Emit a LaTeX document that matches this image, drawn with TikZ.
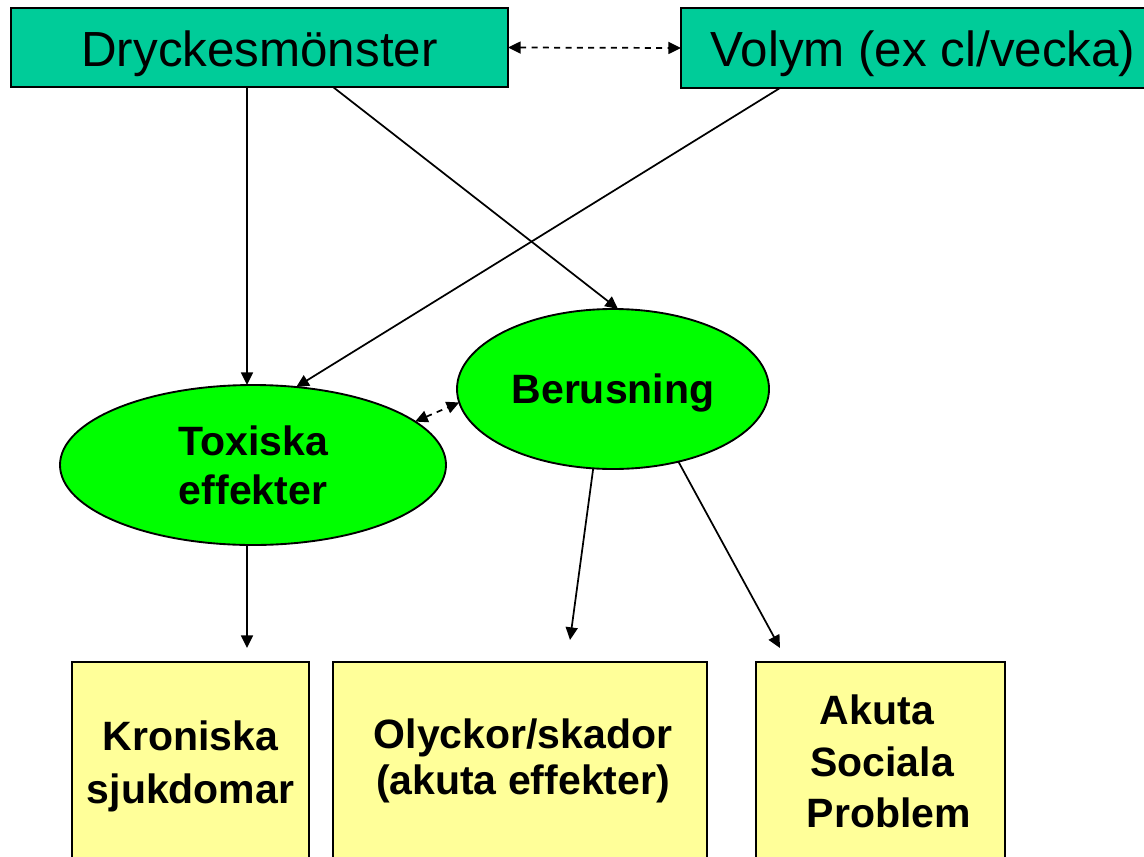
\documentclass[tikz,border=0pt]{standalone}
\usepackage{fontspec}
\setmainfont{Liberation Sans}
\usetikzlibrary{arrows.meta,shapes.geometric}
\definecolor{topteal}{HTML}{00CC99}
\definecolor{ellgreen}{HTML}{00FF00}
\definecolor{boxyellow}{HTML}{FFFF99}
\begin{document}
\begin{tikzpicture}[x=0.75pt,y=-0.75pt,
  topbox/.style={draw=black, line width=1.4pt, fill=topteal, inner sep=0pt, outer sep=0pt,
    text depth=0pt, font=\fontsize{37}{44}\selectfont},
  ellnode/.style={ellipse, draw=black, line width=1.4pt, fill=ellgreen, inner sep=0pt, outer sep=0pt,
    align=center, font=\fontsize{30.75}{36.75}\selectfont\bfseries},
  resbox/.style={draw=black, line width=1.4pt, fill=boxyellow, inner sep=0pt, outer sep=0pt},
  restext/.style={align=center, inner sep=0pt},
  arrowtip/.tip={Triangle[length=9.5pt,width=9pt]},
  conn/.style={line width=1.3pt, -arrowtip},
  dconn/.style={line width=1.3pt, dash pattern=on 4.5pt off 4pt, arrowtip-arrowtip}
]
\useasboundingbox (0,0) rectangle (1144,856);
\fill[white] (0,0) rectangle (1144,856);

% top boxes
\node[topbox, minimum width=372.75pt, minimum height=59.25pt, text height=29.25pt] (dryck) at (259.5,47.5) {Dryckesmönster};
\node[topbox, minimum width=363pt, minimum height=60pt, text height=28.5pt] (volym) at (923,48) {Volym (ex cl/vecka)};

% ellipses
\node[ellnode, minimum width=289.5pt, minimum height=120pt] (tox) at (253,465) {Toxiska\\effekter};
\node[ellnode, minimum width=234pt, minimum height=120pt, text height=21pt, text depth=0pt] (bers) at (613,389) {Berusning};

% result boxes
\node[resbox, minimum width=177.75pt, minimum height=163.5pt] (kron) at (190.5,771) {};
\node[resbox, minimum width=280.5pt, minimum height=163.5pt] (olyck) at (520,771) {};
\node[resbox, minimum width=186.75pt, minimum height=163.5pt] (akuta) at (880.5,771) {};
\node[restext, font=\fontsize{30.75}{39.75}\selectfont\bfseries] (krontext) at (190.5,766) {Kroniska\\sjukdomar};
\node[restext, font=\fontsize{30.75}{34.5}\selectfont\bfseries] (olycktext) at (523,761) {Olyckor/skador\\(akuta effekter)};
\node[restext, font=\fontsize{30.75}{38.6}\selectfont\bfseries] (akutatext) at (882,761.5) {Akuta\hspace*{0.25em}\\Sociala\\\hspace*{0.33em}Problem};

% helper coordinates
\coordinate (xa) at (247,0);
\coordinate (xb) at (333,0);
\coordinate (xc) at (780,0);
\coordinate (e4) at (247,648);
\coordinate (e5) at (570,640);
\coordinate (e6) at (780,648);

% connectors
\draw[dconn] (dryck.east) -- (volym.west);
\draw[conn] (dryck.south -| xa) -- (tox.north -| xa);
\draw[conn] (dryck.south -| xb) -- ([xshift=3.75pt]bers.north);
\draw[conn] (volym.south -| xc) -- (tox.61);
\draw[dconn] (tox.15) -- (bers.185);
\draw[conn] (tox.south -| xa) -- (e4);
\draw[conn] (bers.-104) -- (e5);
\draw[conn] (bers.-48) -- (e6);
\end{tikzpicture}
\end{document}
